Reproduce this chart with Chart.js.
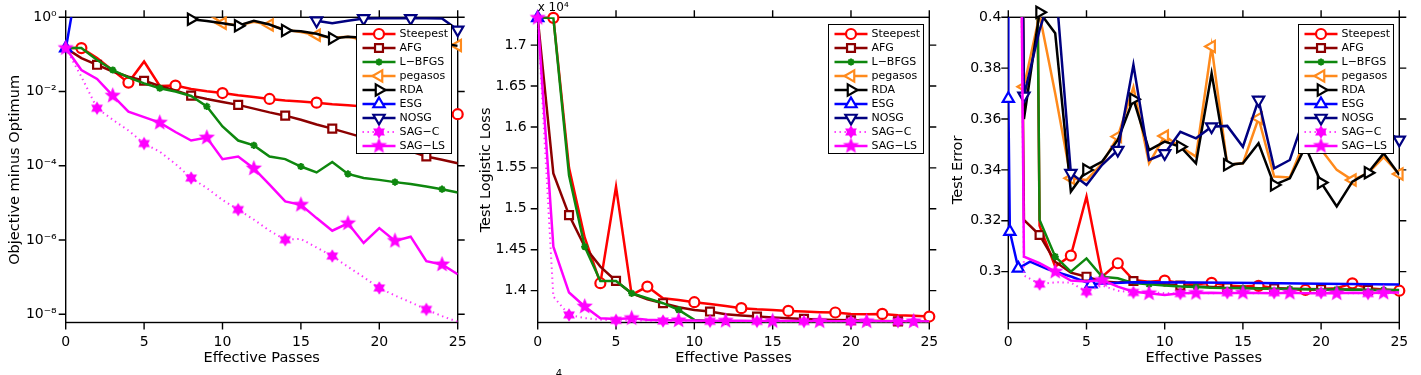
<!DOCTYPE html>
<html><head><meta charset="utf-8">
<script src="https://cdn.jsdelivr.net/npm/chart.js@4.4.1/dist/chart.umd.min.js"></script>
<style>
html,body{margin:0;padding:0;background:#fff;width:1421px;height:375px;overflow:hidden;}
canvas{position:absolute;top:0;}
</style></head><body>
<canvas id="c1" width="470" height="375" style="left:0px"></canvas>
<canvas id="c2" width="475" height="375" style="left:470px"></canvas>
<canvas id="c3" width="476" height="375" style="left:945px"></canvas>
<script>
// ---------------- data ----------------
const passes = [0,1,2,3,4,5,6,7,8,9,10,11,12,13,14,15,16,17,18,19,20,21,22,23,24,25];
const esgPasses = [0,0.003,0.1,0.64,1.39,2.5,4.05,5.29,8,12,16,20,25];
const seriesNames = ['Steepest','AFG','L\u2212BFGS','pegasos','RDA','ESG','NOSG','SAG\u2212C','SAG\u2212LS'];
const xTicks = [0,5,10,15,20,25];

// panel 1: objective minus optimum
const objSteepest = [0.148,0.148,0.0794,0.0372,0.0174,0.0646,0.0141,0.0145,0.0117,0.0102,0.00912,0.00794,0.00708,0.00631,0.00575,0.00537,0.00501,0.00457,0.00427,0.00398,0.00372,0.00347,0.00324,0.00302,0.00275,0.00245];
const objAFG = [0.148,0.0794,0.0525,0.0347,0.0251,0.0195,0.0141,0.0107,0.00776,0.00631,0.00525,0.00437,0.00347,0.00275,0.00224,0.00174,0.00129,0.001,0.000759,0.000575,0.000437,0.000331,0.000245,0.000178,0.000145,0.000117];
const objLBFGS = [0.148,0.148,0.0708,0.038,0.024,0.0166,0.0123,0.01,0.00759,0.00398,0.00115,0.000479,0.000355,0.000178,0.000151,0.0000955,0.0000661,0.000126,0.0000603,0.0000468,0.0000417,0.0000363,0.0000324,0.0000275,0.0000234,0.0000191];
const objPegasos = [null,null,null,null,null,null,null,null,null,1.3,0.69,0.6,0.76,0.62,0.46,0.4,0.33,0.28,0.3,0.25,0.24,0.22,0.224,0.2,0.19,0.174];
const objRDA = [null,null,null,null,null,null,null,null,0.89,0.8,0.69,0.59,0.8,0.64,0.44,0.42,0.36,0.27,0.3,0.28,0.27,0.25,0.24,0.22,0.2,0.17];
const objESG = [0.148,0.15,0.24,5,null,null,null,null,null,null,null,null,null];
const objNOSG = [null,null,null,null,null,null,null,null,null,null,null,null,null,null,null,1.5,0.81,0.69,0.81,0.93,0.95,0.95,0.94,0.95,0.93,0.46];
const objSAGC = [0.148,0.0251,0.00355,0.00174,0.000891,0.000398,0.00024,0.000112,0.0000468,0.0000251,0.000012,0.0000066,0.00000355,0.00000178,0.00000102,0.00000107,0.00000063,0.00000037,0.00000019,0.0000001,0.000000051,0.000000032,0.000000021,0.0000000135,0.0000000089,0.0000000063];
const objSAGLS = [0.148,0.038,0.0219,0.00776,0.00288,0.00204,0.00145,0.000813,0.000479,0.000575,0.000151,0.000178,0.0000851,0.0000309,0.000011,0.0000089,0.0000039,0.00000178,0.00000282,0.00000083,0.00000209,0.00000095,0.00000123,0.00000027,0.00000022,0.00000012];
const objTicks = [1e-8,1e-6,1e-4,1e-2,1];
const objTickLabels = ['10\u207B\u2078','10\u207B\u2076','10\u207B\u2074','10\u207B\u00B2','10\u2070'];

// panel 2: test logistic loss (x 10^4)
const lossSteepest = [1.7333,1.7333,1.55,1.465,1.409,1.5268,1.3947,1.4049,1.3906,1.3886,1.3858,1.3837,1.3813,1.3785,1.3772,1.3764,1.3752,1.3744,1.3736,1.3732,1.3715,1.3711,1.3715,1.3699,1.3691,1.3683];
const lossAFG = [1.7333,1.5431,1.4923,1.4537,1.4293,1.4118,1.3967,1.3894,1.3846,1.3797,1.3764,1.3744,1.3711,1.3695,1.3683,1.3671,1.3663,1.3654,1.3648,1.3642,1.3637,1.3632,1.3628,1.3624,1.362,1.3617];
const lossLBFGS = [1.7333,1.7333,1.541,1.4537,1.4118,1.4118,1.3967,1.3906,1.3846,1.3764,1.3642,1.3628,1.3624,1.3622,1.3621,1.362,1.362,1.3619,1.3619,1.3619,1.3618,1.3618,1.3618,1.3618,1.3617,1.3617];
const lossPegasos = [1.7333,null,null,null,null,null,null,null,null,null,null,null,null,null,null,null,null,null,null,null,null,null,null,null,null,null];
const lossRDA = [1.7333,null,null,null,null,null,null,null,null,null,null,null,null,null,null,null,null,null,null,null,null,null,null,null,null,null];
const lossESG = [1.7333,null,null,null,null,null,null,null,null,null,null,null,null];
const lossNOSG = [1.7333,null,null,null,null,null,null,null,null,null,null,null,null,null,null,null,null,null,null,null,null,null,null,null,null,null];
const lossSAGC = [1.7333,1.3927,1.3703,1.3663,1.3645,1.3636,1.3632,1.363,1.3628,1.3627,1.3626,1.3625,1.3625,1.3624,1.3624,1.3623,1.3623,1.3622,1.3622,1.3622,1.3621,1.3621,1.3621,1.362,1.362,1.362];
const lossSAGLS = [1.7333,1.4537,1.3976,1.3805,1.3663,1.3654,1.3663,1.3645,1.3638,1.3636,1.3634,1.3632,1.3631,1.363,1.3629,1.3628,1.3627,1.3627,1.3626,1.3626,1.3625,1.3625,1.3624,1.3624,1.3624,1.3623];
const lossTicks = [1.4,1.45,1.5,1.55,1.6,1.65,1.7];
const lossTickLabels = ['1.4','1.45','1.5','1.55','1.6','1.65','1.7'];

// panel 3: test error
const errSteepest = [1.0,1.0,0.318,0.302,0.3063,0.3295,0.298,0.3033,0.2967,0.296,0.2965,0.2955,0.295,0.2956,0.2945,0.2942,0.2944,0.2936,0.2932,0.2928,0.2932,0.2935,0.2954,0.2935,0.293,0.2925];
const errAFG = [1.0,0.3203,0.3144,0.3039,0.2996,0.298,0.2961,0.2957,0.2963,0.2955,0.295,0.2945,0.2942,0.294,0.2938,0.2937,0.2935,0.2934,0.2933,0.2932,0.2931,0.293,0.293,0.2928,0.2928,0.2927];
const errLBFGS = [1.0,1.0,0.3203,0.3059,0.300,0.3052,0.298,0.2974,0.2955,0.295,0.2945,0.2942,0.294,0.2937,0.2936,0.2935,0.2934,0.2933,0.2932,0.2931,0.293,0.293,0.2929,0.2929,0.2928,0.2928];
const errPegasos = [1.0,0.3727,0.401,0.37,0.3367,0.336,0.3426,0.3531,0.3725,0.3426,0.3533,0.3491,0.3452,0.3885,0.342,0.3426,0.3603,0.3374,0.337,0.352,0.348,0.34,0.336,0.3387,0.345,0.3384];
const errRDA = [1.0,0.36,0.402,0.3937,0.3315,0.34,0.3433,0.3518,0.3678,0.3478,0.3511,0.3491,0.3426,0.378,0.342,0.3426,0.3505,0.3341,0.3367,0.3491,0.335,0.3256,0.3354,0.3389,0.3465,0.338];
const errESG = [1.0,0.368,0.3157,0.3013,0.3039,0.301,0.298,0.2951,0.2958,0.2957,0.2955,0.2952,0.2949];
const errNOSG = [1.0,0.3691,0.395,0.415,0.3387,0.3341,0.342,0.3478,0.3813,0.3439,0.3465,0.355,0.3524,0.357,0.3573,0.3491,0.3675,0.3406,0.3439,0.362,0.355,0.3472,0.352,0.355,0.356,0.3518];
const errSAGC = [1.0,0.2985,0.2951,0.2958,0.2957,0.2921,0.2945,0.2925,0.2918,0.292,0.2915,0.2914,0.2916,0.2915,0.2917,0.2916,0.2915,0.2917,0.2916,0.2916,0.2917,0.2916,0.2915,0.2914,0.2915,0.2915];
const errSAGLS = [1.0,0.3059,0.3033,0.300,0.2965,0.2961,0.2967,0.2941,0.2921,0.2915,0.2908,0.2915,0.2916,0.2917,0.2915,0.2917,0.2916,0.2915,0.2917,0.2915,0.2916,0.2915,0.2917,0.2916,0.2917,0.2918];
const errTicks = [0.3,0.32,0.34,0.36,0.38,0.4];
const errTickLabels = ['0.3','0.32','0.34','0.36','0.38','0.4'];

// ---------------- styles ----------------
const FONT = 'DejaVu Sans';
function starImg(n, rOut, rIn, color) {
  const s = Math.ceil(rOut * 2 + 2);
  const c = document.createElement('canvas');
  c.width = s; c.height = s;
  const g = c.getContext('2d');
  g.translate(s / 2, s / 2);
  g.beginPath();
  for (let k = 0; k < 2 * n; k++) {
    const r = (k % 2) ? rIn : rOut;
    const a = -Math.PI / 2 + k * Math.PI / n;
    g.lineTo(r * Math.cos(a), r * Math.sin(a));
  }
  g.closePath();
  g.fillStyle = color; g.fill();
  return c;
}
const pentagram = starImg(5, 8.5, 3.7, '#ff00ff');
const hexagram = starImg(6, 6.8, 4.0, '#ff00ff');

const styles = [
  {color:'#ff0000', ps:'circle', r:5, rot:0, fill:'#ffffff', bw:2.2, off:1},
  {color:'#8c0000', ps:'rect', r:5.6, rot:0, fill:'#ffffff', bw:2.2, off:2},
  {color:'#0e870e', ps:'star', r:3.6, rot:0, fill:'#0e870e', bw:2, off:0},
  {color:'#ff8a1c', ps:'triangle', r:6.5, rot:-90, fill:'#ffffff', bw:2.2, off:1},
  {color:'#000000', ps:'triangle', r:6.5, rot:90, fill:'#ffffff', bw:2.2, off:2},
  {color:'#0000ff', ps:'triangle', r:6.5, rot:0, fill:'#ffffff', bw:2.2, off:0},
  {color:'#000080', ps:'triangle', r:6.5, rot:180, fill:'#ffffff', bw:2.2, off:1},
  {color:'#ff33ff', ps:hexagram, r:6, rot:0, fill:'#ff00ff', bw:0, off:2, dash:[1.4,3.6], lw:2},
  {color:'#ff00ff', ps:pentagram, r:8, rot:0, fill:'#ff00ff', bw:0, off:0}
];

// ---------------- plugins ----------------
function framePlugin(yTicks) {
  return {
    id: 'frame',
    beforeDatasetsDraw(chart) {
      const {ctx, chartArea: a, scales} = chart;
      ctx.save();
      ctx.strokeStyle = '#000'; ctx.lineWidth = 1.4;
      ctx.strokeRect(a.left, a.top, a.right - a.left, a.bottom - a.top);
      const L = 7;
      ctx.beginPath();
      xTicks.forEach(v => {
        const px = scales.x.getPixelForValue(v);
        ctx.moveTo(px, a.bottom); ctx.lineTo(px, a.bottom + L);
        ctx.moveTo(px, a.top); ctx.lineTo(px, a.top - L);
      });
      yTicks.forEach(v => {
        const py = scales.y.getPixelForValue(v);
        ctx.moveTo(a.left - L, py); ctx.lineTo(a.left, py);
        ctx.moveTo(a.right, py); ctx.lineTo(a.right + L, py);
      });
      ctx.stroke();
      ctx.restore();
    }
  };
}
function drawMarker(ctx, st, x, y) {
  ctx.save();
  ctx.fillStyle = st.fill; ctx.strokeStyle = st.color; ctx.lineWidth = st.bw;
  const opts = {pointStyle: st.ps, radius: st.r, rotation: st.rot, borderWidth: st.bw};
  if (Chart.helpers && Chart.helpers.drawPoint) {
    Chart.helpers.drawPoint(ctx, opts, x, y);
  } else if (typeof st.ps === 'object') {
    ctx.drawImage(st.ps, x - st.ps.width / 2, y - st.ps.height / 2);
  }
  ctx.restore();
}
const legendPlugin = {
  id: 'boxlegend',
  afterDraw(chart) {
    const {ctx, chartArea: a} = chart;
    const w = 95, h = 129;
    const left = Math.round(a.right - 6.3 - w) + 0.5, top = Math.round(a.top + 6.3) + 0.5;
    ctx.save();
    ctx.fillStyle = '#fff';
    ctx.fillRect(left, top, w, h);
    ctx.strokeStyle = '#000'; ctx.lineWidth = 1;
    ctx.strokeRect(left, top, w, h);
    seriesNames.forEach((name, i) => {
      const st = styles[i];
      const y = top + 9.5 + 14 * i;
      ctx.save();
      ctx.strokeStyle = st.color; ctx.lineWidth = st.lw || 2.5;
      ctx.setLineDash(st.dash || []);
      ctx.beginPath(); ctx.moveTo(left + 6, y); ctx.lineTo(left + 39, y); ctx.stroke();
      ctx.restore();
      drawMarker(ctx, st, left + 22.5, y);
      ctx.fillStyle = '#000';
      ctx.font = '11px "' + FONT + '"';
      ctx.textBaseline = 'middle'; ctx.textAlign = 'left';
      ctx.fillText(name, left + 43, y + 0.5);
    });
    ctx.restore();
  }
};
function textPlugin(items) {
  return {
    id: 'extratext',
    afterDraw(chart) {
      const {ctx, chartArea: a} = chart;
      ctx.save();
      ctx.fillStyle = '#000'; ctx.textBaseline = 'alphabetic'; ctx.textAlign = 'left';
      items.forEach(t => { ctx.font = t.size + 'px "' + FONT + '"'; ctx.fillText(t.text, a.left + t.dx, t.y); });
      ctx.restore();
    }
  };
}

// ---------------- chart factory ----------------
function makeChart(id, cfg) {
  const ds = [];
  seriesNames.forEach((name, i) => {
    const st = styles[i];
    const xs = (i === 5) ? esgPasses : passes;
    const ys = cfg.data[i];
    const pts = xs.map((x, k) => ({x: x, y: ys[k]}));
    ds.push({
      label: name, data: pts, borderColor: st.color, borderWidth: st.lw || 2.5,
      borderDash: st.dash || [], borderJoinStyle: 'miter', pointRadius: 0, pointHoverRadius: 0,
      fill: false, tension: 0, clip: 0, spanGaps: false
    });
    ds.push({
      label: name + ' markers', data: pts, showLine: false, clip: false,
      pointStyle: st.ps, pointRotation: st.rot, pointBorderColor: st.color,
      pointBackgroundColor: st.fill, pointBorderWidth: st.bw, pointHoverRadius: 0,
      pointRadius: (c) => {
        const k = c.dataIndex;
        const ok = (i === 5) ? cfg.esgMarks.includes(k) : (k % 3 === st.off);
        return ok ? st.r : 0;
      }
    });
  });
  ds.reverse();
  const tickFont = {family: FONT, size: 14};
  const titleFont = {family: FONT, size: 14.5};
  return new Chart(document.getElementById(id), {
    type: 'line',
    data: {datasets: ds},
    options: {
      responsive: false, animation: false, devicePixelRatio: 1, events: [],
      layout: {padding: {top: 17.3, right: cfg.rightPad, left: 0, bottom: 0}},
      plugins: {legend: {display: false}, tooltip: {enabled: false}},
      scales: {
        x: {
          type: 'linear', min: 0, max: 25,
          afterBuildTicks: s => { s.ticks = xTicks.map(v => ({value: v})); },
          ticks: {font: tickFont, color: '#000', padding: 11, maxRotation: 0, autoSkip: false, callback: v => String(v)},
          grid: {display: false, drawTicks: false}, border: {display: false},
          title: {display: true, text: 'Effective Passes', font: titleFont, color: '#000', padding: {top: 0, bottom: 7.8}},
          afterFit: s => { s.height = 52.5; s.paddingLeft = 0; s.paddingRight = 0; }
        },
        y: {
          type: cfg.yType, min: cfg.yMin, max: cfg.yMax,
          afterBuildTicks: s => { s.ticks = cfg.yTicks.map(v => ({value: v})); },
          ticks: {font: tickFont, color: '#000', padding: cfg.yPad, autoSkip: false, callback: (v, idx) => cfg.yLabels[idx]},
          grid: {display: false, drawTicks: false}, border: {display: false},
          title: {display: true, text: cfg.yTitle, font: titleFont, color: '#000', padding: {top: cfg.yTitlePad, bottom: 0}},
          afterFit: s => { s.width = cfg.yWidth; s.paddingTop = 0; s.paddingBottom = 0; }
        }
      }
    },
    plugins: [framePlugin(cfg.yTicks), legendPlugin, textPlugin(cfg.texts || [])]
  });
}

makeChart('c1', {
  data: [objSteepest, objAFG, objLBFGS, objPegasos, objRDA, objESG, objNOSG, objSAGC, objSAGLS],
  esgMarks: [0], yType: 'logarithmic', yMin: 6.0e-9, yMax: 1,
  yTicks: objTicks, yLabels: objTickLabels, yTitle: 'Objective minus Optimum',
  yTitlePad: 6.3, yWidth: 65.7, rightPad: 12.3, yPad: 9
});
makeChart('c2', {
  data: [lossSteepest, lossAFG, lossLBFGS, lossPegasos, lossRDA, lossESG, lossNOSG, lossSAGC, lossSAGLS],
  esgMarks: [0], yType: 'linear', yMin: 1.361, yMax: 1.734,
  yTicks: lossTicks, yLabels: lossTickLabels, yTitle: 'Test Logistic Loss',
  yTitlePad: 8, yWidth: 67.7, rightPad: 15.7, yPad: 11,
  texts: [{text: 'x 10\u2074', size: 12, dx: 0, y: 11}, {text: '4', size: 10, dx: 18, y: 377}]
});
makeChart('c3', {
  data: [errSteepest, errAFG, errLBFGS, errPegasos, errRDA, errESG, errNOSG, errSAGC, errSAGLS],
  esgMarks: [1, 2, 3, 7], yType: 'linear', yMin: 0.28, yMax: 0.4,
  yTicks: errTicks, yLabels: errTickLabels, yTitle: 'Test Error',
  yTitlePad: 4.6, yWidth: 63.3, rightPad: 21.7, yPad: 7
});
</script>
</body></html>
